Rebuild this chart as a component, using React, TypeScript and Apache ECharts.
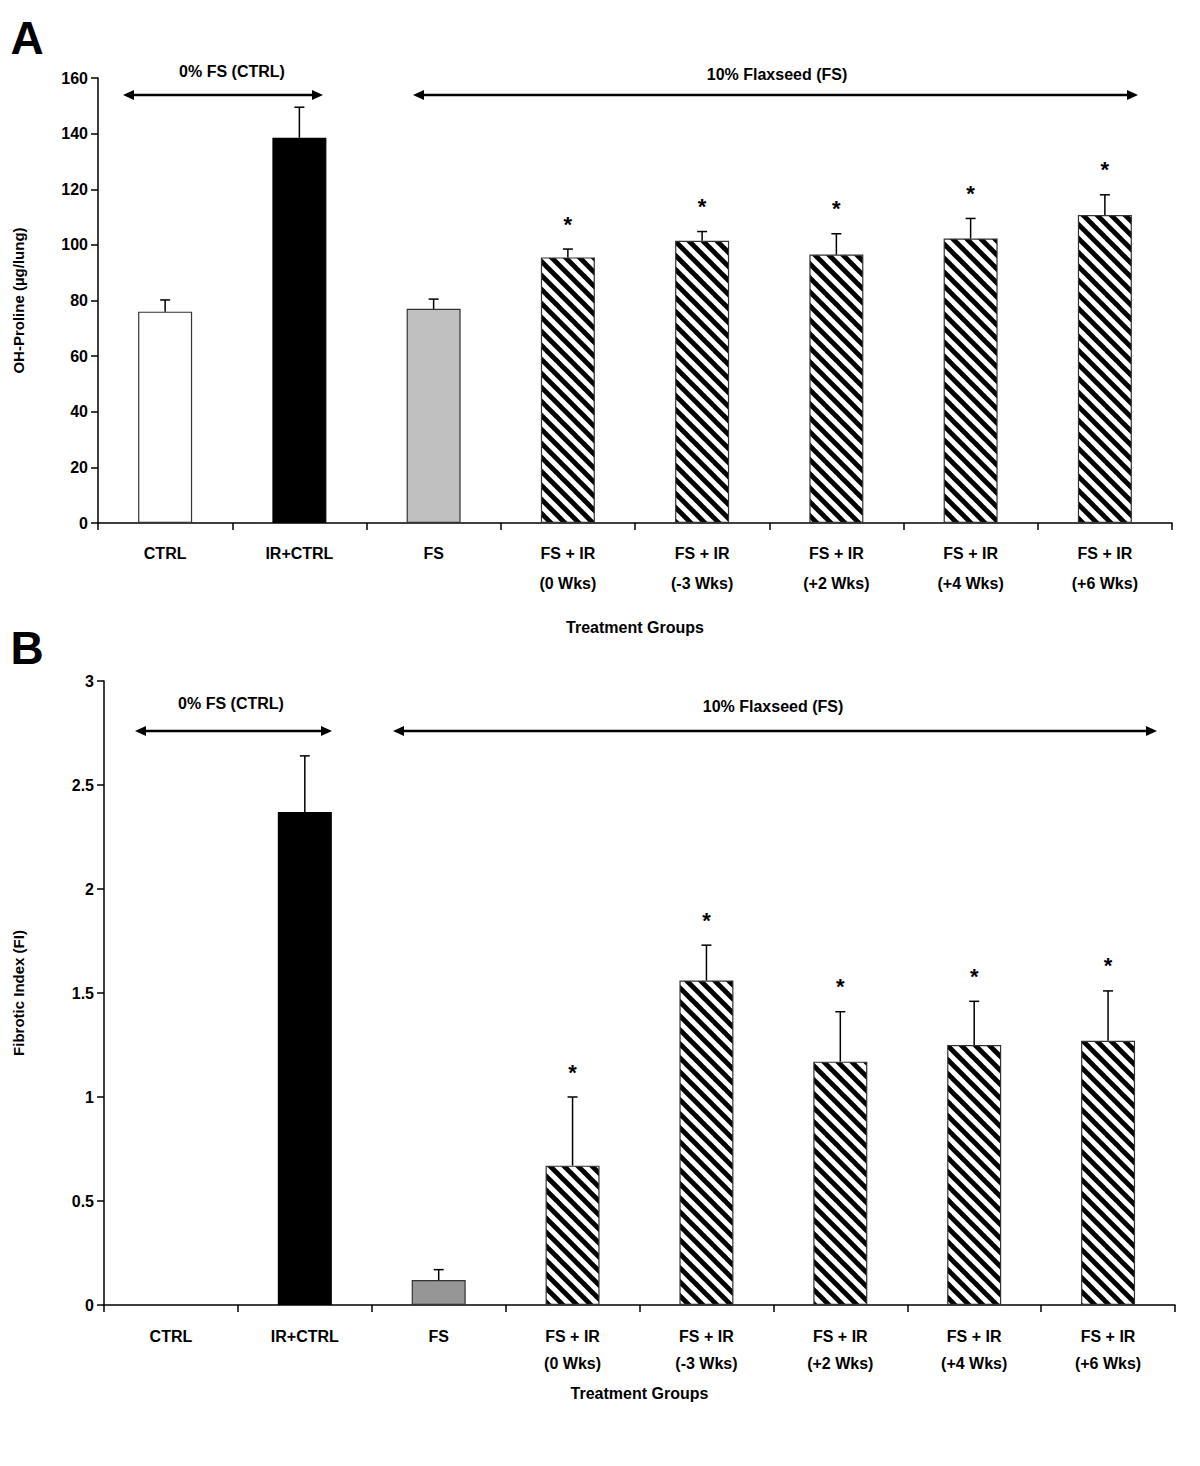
import React, { useEffect, useRef } from "react";
import * as echarts from "echarts";

const categories = [
  "CTRL",
  "IR+CTRL",
  "FS",
  "FS + IR\n(0 Wks)",
  "FS + IR\n(-3 Wks)",
  "FS + IR\n(+2 Wks)",
  "FS + IR\n(+4 Wks)",
  "FS + IR\n(+6 Wks)",
];

// Panel A: OH-Proline (µg/lung)
const ohProline = [76, 138.5, 77, 95.5, 101.5, 96.5, 102.3, 110.7];
const ohProlineSem = [4.2, 11, 3.5, 3, 3.3, 7.5, 7.2, 7.3];
const ohProlineSig = [0, 0, 0, 1, 1, 1, 1, 1];
const ohTicks = { min: 0, max: 160, interval: 20 };

// Panel B: Fibrotic Index (FI)
const fibrotic = [0, 2.37, 0.12, 0.67, 1.56, 1.17, 1.25, 1.27];
const fibroticSem = [0, 0.27, 0.05, 0.33, 0.17, 0.24, 0.21, 0.24];
const fibroticSig = [0, 0, 0, 1, 1, 1, 1, 1];
const fiTicks = { min: 0, max: 3, interval: 0.5 };

const FONT = "'Liberation Sans', Arial, Helvetica, sans-serif";

function makeHatch() {
  const s = 14;
  const c = document.createElement("canvas");
  c.width = s;
  c.height = s;
  const ctx = c.getContext("2d")!;
  ctx.fillStyle = "#ffffff";
  ctx.fillRect(0, 0, s, s);
  ctx.strokeStyle = "#000000";
  ctx.lineWidth = 4.8;
  for (const k of [-1, 0, 1]) {
    ctx.beginPath();
    ctx.moveTo(k * s - 3, -3);
    ctx.lineTo(k * s + s + 3, s + 3);
    ctx.stroke();
  }
  return c;
}

function arrow(x1: number, x2: number, y: number) {
  const h = 11;
  const w = 5;
  return {
    type: "group",
    children: [
      {
        type: "line",
        shape: { x1: x1 + 4, y1: y, x2: x2 - 4, y2: y },
        style: { stroke: "#000", lineWidth: 2.5 },
      },
      {
        type: "polygon",
        shape: { points: [[x1, y], [x1 + h, y - w], [x1 + h, y + w]] },
        style: { fill: "#000" },
      },
      {
        type: "polygon",
        shape: { points: [[x2, y], [x2 - h, y - w], [x2 - h, y + w]] },
        style: { fill: "#000" },
      },
    ],
  };
}

function label(text: string, x: number, y: number, size = 16) {
  return {
    type: "text",
    x,
    y,
    style: {
      text,
      fontFamily: FONT,
      fontWeight: "bold",
      fontSize: size,
      fill: "#000",
      align: "center",
      verticalAlign: "middle",
    },
  };
}

export default function App() {
  const ref = useRef<HTMLDivElement>(null);

  useEffect(() => {
    if (!ref.current) return;
    const chart = echarts.init(ref.current, null, { renderer: "svg" });
    const hatch = { image: makeHatch(), repeat: "repeat" };

    const fillsA = ["#ffffff", "#000000", "#c0c0c0", hatch, hatch, hatch, hatch, hatch];
    const fillsB = ["#ffffff", "#000000", "#969696", hatch, hatch, hatch, hatch, hatch];

    const xAxisCommon = (gridIndex: number, margin: number, lh: number, nameGap: number) => ({
      type: "category",
      gridIndex,
      data: categories,
      name: "Treatment Groups",
      nameLocation: "middle",
      nameGap,
      nameTextStyle: { fontFamily: FONT, fontWeight: "bold", fontSize: 16, color: "#000" },
      axisLine: { lineStyle: { color: "#000", width: 1.5 } },
      axisTick: { show: true, length: 7, inside: false, alignWithLabel: false, lineStyle: { color: "#000", width: 1.5 } },
      axisLabel: {
        margin,
        interval: 0,
        fontFamily: FONT,
        fontWeight: "bold",
        fontSize: 16,
        color: "#000",
        lineHeight: lh,
        verticalAlign: "top",
      },
      splitLine: { show: false },
    });

    const yAxisCommon = (gridIndex: number, ticks: any, name: string, nameGap: number) => ({
      type: "value",
      gridIndex,
      min: ticks.min,
      max: ticks.max,
      interval: ticks.interval,
      name,
      nameLocation: "middle",
      nameRotate: 90,
      nameGap,
      nameTextStyle: { fontFamily: FONT, fontWeight: "bold", fontSize: 15, color: "#000" },
      axisLine: { show: true, lineStyle: { color: "#000", width: 1.5 } },
      axisTick: { show: true, length: 7, lineStyle: { color: "#000", width: 1.5 } },
      axisLabel: { margin: 10, fontFamily: FONT, fontWeight: "bold", fontSize: 16, color: "#000" },
      splitLine: { show: false },
    });

    const barSeries = (idx: number, values: number[], fills: any[]) => ({
      type: "bar",
      xAxisIndex: idx,
      yAxisIndex: idx,
      barWidth: 54,
      data: values.map((v, i) => ({
        value: v,
        itemStyle: {
          color: fills[i],
          borderColor: i === 1 ? "#000" : "#333",
          borderWidth: v > 0 ? 1.2 : 0,
        },
      })),
    });

    const errSeries = (idx: number, values: number[], sem: number[], sig: number[], gap: number) => ({
      type: "custom",
      xAxisIndex: idx,
      yAxisIndex: idx,
      z: 5,
      data: values.map((v, i) => [i, v, v + sem[i], sig[i]]),
      renderItem: (params: any, api: any) => {
        const i = api.value(0);
        const v = api.value(1);
        const e = api.value(2);
        const s = api.value(3);
        const children: any[] = [];
        if (e > v) {
          const p0 = api.coord([i, v]);
          const p1 = api.coord([i, e]);
          children.push({
            type: "line",
            shape: { x1: p0[0], y1: p0[1], x2: p1[0], y2: p1[1] },
            style: { stroke: "#000", lineWidth: 1.5 },
          });
          children.push({
            type: "line",
            shape: { x1: p1[0] - 5, y1: p1[1], x2: p1[0] + 5, y2: p1[1] },
            style: { stroke: "#000", lineWidth: 1.5 },
          });
          if (s) {
            children.push({
              type: "text",
              style: {
                text: "*",
                x: p1[0],
                y: p1[1] - gap,
                align: "center",
                verticalAlign: "middle",
                fontFamily: FONT,
                fontWeight: "bold",
                fontSize: 22,
                fill: "#000",
              },
            });
          }
        }
        return { type: "group", children };
      },
    });

    chart.setOption({
      animation: false,
      backgroundColor: "#ffffff",
      grid: [
        { left: 98, right: 28, top: 78, height: 445 },
        { left: 104, right: 25, top: 681, height: 624 },
      ],
      xAxis: [xAxisCommon(0, 15, 30, 96), xAxisCommon(1, 18, 27, 80)],
      yAxis: [
        yAxisCommon(0, ohTicks, "OH-Proline (\u00b5g/lung)", 72),
        yAxisCommon(1, fiTicks, "Fibrotic Index (FI)", 78),
      ],
      series: [
        barSeries(0, ohProline, fillsA),
        errSeries(0, ohProline, ohProlineSem, ohProlineSig, 25),
        barSeries(1, fibrotic, fillsB),
        errSeries(1, fibrotic, fibroticSem, fibroticSig, 25),
      ],
      graphic: [
        label("A", 27, 38, 46),
        label("B", 27, 648, 46),
        label("0% FS (CTRL)", 232, 71),
        label("10% Flaxseed (FS)", 777, 74),
        arrow(123, 323, 95),
        arrow(413, 1138, 95),
        label("0% FS (CTRL)", 231, 703),
        label("10% Flaxseed (FS)", 773, 706),
        arrow(135, 332, 731),
        arrow(393, 1157, 731),
      ],
    });

    return () => chart.dispose();
  }, []);

  return (
    <div
      ref={ref}
      style={{ position: "absolute", left: 0, top: 0, width: 1200, height: 1466, background: "#fff" }}
    />
  );
}
